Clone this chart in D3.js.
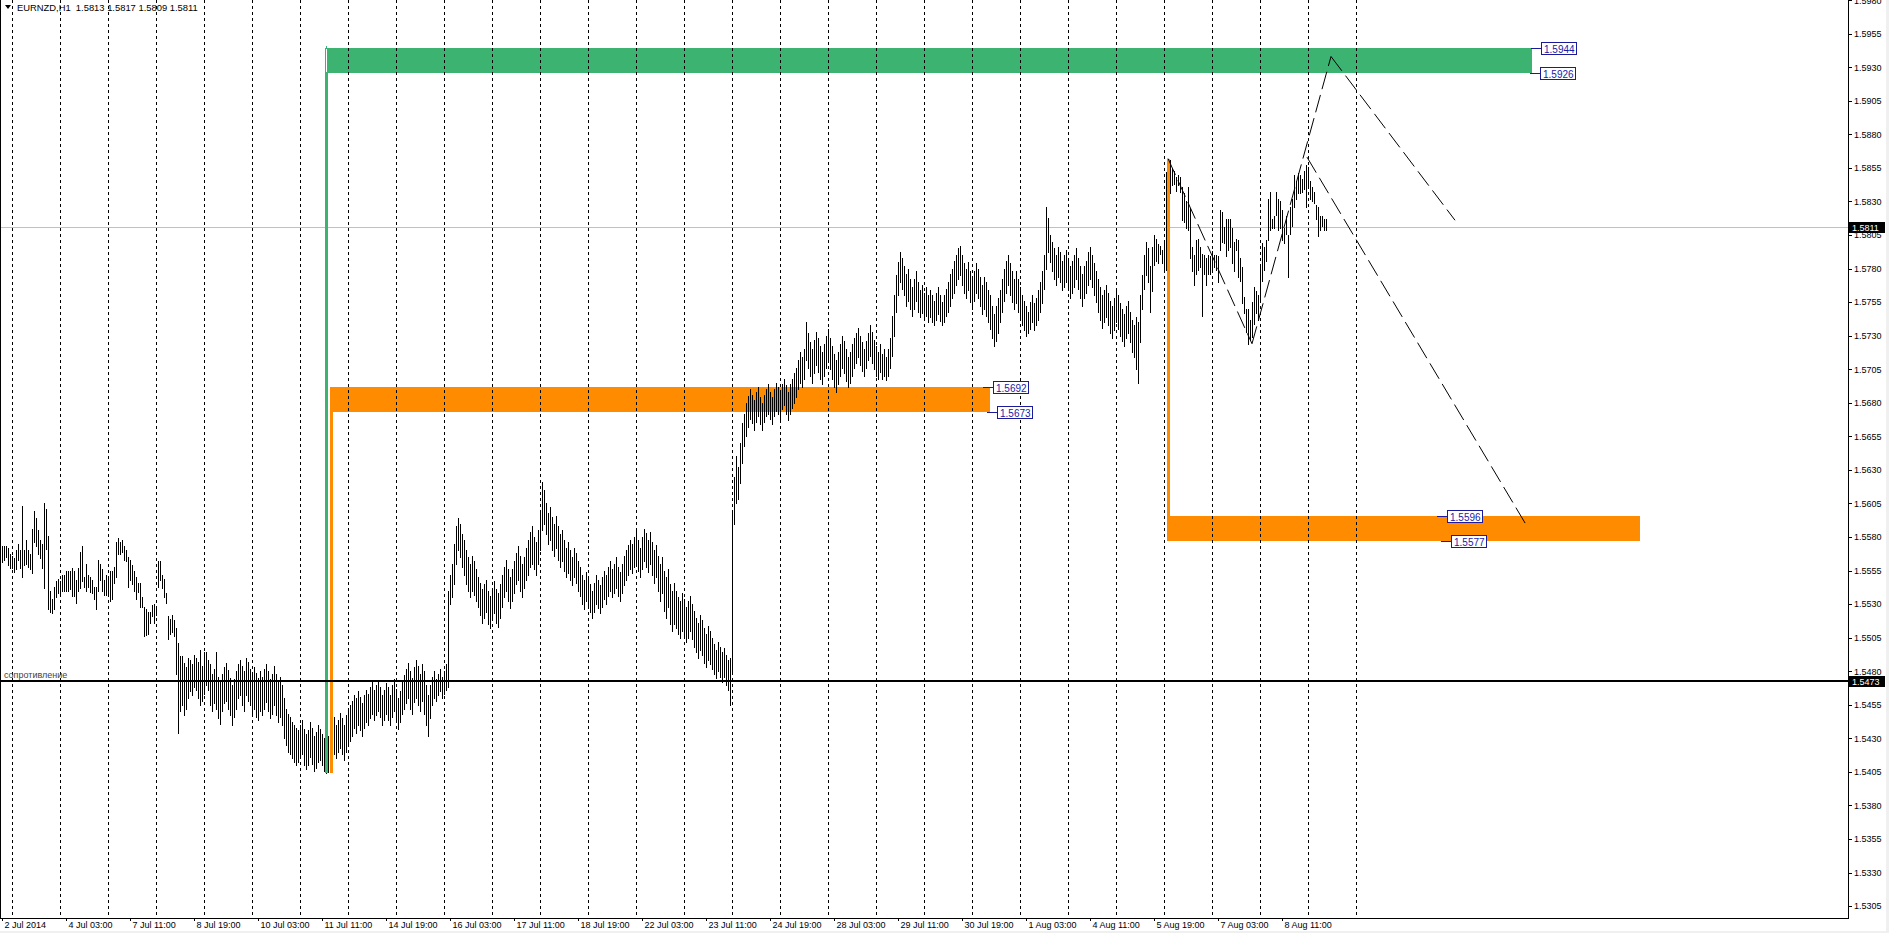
<!DOCTYPE html>
<html>
<head>
<meta charset="utf-8">
<script src="https://cdn.jsdelivr.net/npm/d3@7/dist/d3.min.js"></script>
<style>
html,body{margin:0;padding:0;background:#fff;overflow:hidden}
svg{display:block}
text{font-family:"Liberation Sans",Arial,Helvetica,sans-serif}
</style>
</head>
<body>
<svg id="chart" width="1889" height="933"></svg>
<script>
// ================= DATA =================
const title = "EURNZD,H1  1.5813 1.5817 1.5809 1.5811";
// hourly bar highs / lows, in pips above 1.5000  (price = 1.5 + pips / 10000)
const highPips = [
573,573,573,572,567,566,564,570,575,570,603,570,578,570,567,586,599,594,585,578,
575,605,601,581,540,534,543,547,549,547,552,552,555,555,555,557,555,548,557,569,
573,550,560,552,550,548,543,543,563,560,556,548,552,549,555,555,558,576,579,576,
578,573,570,565,563,559,555,550,546,546,535,528,526,524,524,529,530,528,562,562,
552,549,538,521,519,522,518,
512,501,491,491,486,483,490,488,485,492,490,487,496,
484,494,494,488,485,478,482,494,476,472,478,483,486,481,475,470,474,480,485,488,
484,480,490,487,482,478,483,479,475,480,476,482,485,480,474,478,484,478,472,476,
470,460,452,448,446,442,440,438,436,440,444,437,433,436,442,438,432,435,440,437,
433,430,428,432,438,442,446,440,444,449,445,440,447,452,455,458,462,460,465,461,
456,462,466,463,468,472,466,470,473,468,462,466,471,468,462,470,474,467,460,465,
472,477,482,486,480,475,483,488,484,478,485,480,470,462,470,476,480,474,478,482,
476,480,485,540,552,560,575,588,594,590,582,578,570,565,560,566,562,556,550,546,
541,545,548,540,536,542,547,541,538,545,552,558,563,556,550,556,562,568,573,566,
560,565,572,578,584,588,580,576,585,600,621,615,605,598,602,595,590,596,588,582,
585,578,572,576,570,565,572,568,562,558,552,548,554,550,545,540,546,552,548,544,
550,555,552,558,562,556,560,565,558,554,560,566,570,574,578,575,580,585,578,572,
580,586,583,578,584,576,570,574,566,560,565,555,550,556,545,540,546,540,535,532,
538,534,528,532,536,530,525,520,516,522,518,512,508,514,510,505,500,496,502,498,
494,497,492,488,490,600,625,640,632,650,665,672,680,685,690,686,682,688,692,684,
680,686,690,694,688,684,690,695,692,688,694,698,693,688,694,698,702,706,712,718,
714,720,740,732,725,720,727,733,728,722,718,724,730,735,728,722,716,712,718,724,
730,726,720,714,718,724,728,732,736,730,725,720,726,732,738,733,727,722,718,724,
716,720,714,720,728,745,760,775,785,792,788,782,776,780,772,766,772,778,770,764,
768,762,766,760,764,760,756,762,766,760,755,760,765,770,776,780,786,790,795,797,
790,784,780,785,778,772,778,784,780,774,768,774,770,764,760,752,746,752,758,764,
772,780,786,790,784,778,772,778,772,766,760,756,752,748,755,760,754,758,764,770,
778,790,826,818,805,800,795,790,796,792,786,790,794,788,782,786,790,795,788,782,
776,782,786,792,796,790,784,778,772,766,760,764,768,762,756,752,758,764,760,754,
750,746,752,756,748,742,738,744,740,760,775,790,800,795,
782,796,805,802,798,797,794,801,852,862,
861,855,853,848,850,848,841,836,830,841,
825,796,790,801,802,796,791,790,788,790,
789,793,790,790,789,824,822,811,817,817,
817,810,800,802,801,788,781,759,750,750,
742,755,766,763,760,783,799,796,801,832,
837,817,819,837,832,830,824,810,819,805,
826,832,850,845,851,850,847,853,857,856,
845,841,837,827,826,819,819,817,817
];
const lowPips = [
561,563,565,559,557,557,554,556,563,557,550,559,560,558,556,553,576,573,567,564,
557,542,571,526,524,523,526,535,538,538,540,540,540,540,541,536,536,531,540,542,
547,543,540,543,539,538,534,526,540,548,540,537,537,538,532,534,546,550,567,567,
569,563,562,543,548,545,540,534,539,528,528,506,507,508,516,521,516,522,543,548,
542,535,531,504,508,509,506,
478,434,450,455,447,452,460,465,462,468,466,460,455,
458,463,470,466,455,450,456,452,445,441,450,456,458,452,447,440,446,452,460,462,
455,450,462,458,455,449,452,446,444,450,447,452,457,450,445,448,455,447,442,446,
440,430,425,420,418,415,412,410,412,415,418,410,407,410,416,411,406,408,412,414,
410,406,404,405,410,414,418,415,420,423,418,414,420,425,428,432,438,434,440,436,
432,438,442,440,445,448,444,447,450,446,440,444,448,444,440,446,450,444,437,442,
448,452,456,460,452,448,457,460,455,450,458,448,440,432,445,455,460,458,462,465,
460,463,466,468,530,535,545,560,570,565,558,552,545,540,535,540,537,532,528,522,
516,520,524,515,512,518,523,516,513,520,528,535,540,532,527,532,538,545,548,540,
535,542,548,552,558,560,556,552,560,570,585,590,582,575,578,570,566,572,563,558,
562,555,550,553,548,544,550,546,540,536,530,526,532,528,524,520,524,530,527,523,
528,534,530,536,540,535,538,542,536,532,538,544,548,552,556,553,558,560,555,550,
556,562,558,554,560,552,546,550,540,532,538,525,520,528,515,510,515,512,508,505,
510,506,502,505,510,504,498,494,490,496,492,486,483,488,485,482,478,475,480,476,
472,476,470,466,455,480,590,605,608,620,635,648,655,662,668,665,660,666,670,664,
660,666,670,672,668,664,670,674,672,668,675,678,672,667,672,676,680,684,690,695,
692,698,712,706,700,695,702,708,703,698,694,700,706,712,705,698,692,688,694,700,
706,702,696,692,695,700,706,710,714,708,704,700,706,712,715,710,705,700,698,703,
698,700,697,700,706,715,730,748,760,770,765,760,752,756,750,745,750,756,748,744,
747,742,745,740,744,740,738,742,746,741,738,740,745,748,752,758,762,768,772,775,
768,762,758,764,755,750,756,762,758,752,746,750,745,740,735,728,722,726,732,740,
748,756,762,768,760,755,750,754,748,742,738,734,730,732,735,740,734,738,742,748,
754,765,780,792,785,778,772,768,774,770,764,766,770,764,758,762,766,772,765,758,
752,758,762,768,772,766,760,755,748,742,736,740,744,738,732,728,734,740,735,730,
726,722,728,732,725,718,714,705,695,725,750,765,775,770,
748,763,783,786,784,791,784,779,779,826,
836,842,843,838,842,837,816,815,810,809,
788,778,768,776,779,781,745,776,768,776,
776,779,781,779,770,794,800,799,789,794,
796,784,778,794,774,771,754,747,733,724,
727,729,739,747,742,757,771,779,786,801,
809,810,810,820,809,810,801,799,806,774,
806,812,826,832,836,836,837,839,826,842,
832,830,829,817,804,809,812,809,809
];
const timeLabels = ["2 Jul 2014","4 Jul 03:00","7 Jul 11:00","8 Jul 19:00","10 Jul 03:00","11 Jul 11:00",
  "14 Jul 19:00","16 Jul 03:00","17 Jul 11:00","18 Jul 19:00","22 Jul 03:00","23 Jul 11:00","24 Jul 19:00",
  "28 Jul 03:00","29 Jul 11:00","30 Jul 19:00","1 Aug 03:00","4 Aug 11:00","5 Aug 19:00","7 Aug 03:00","8 Aug 11:00"];
const priceTickLabels = ["1.5305","1.5330","1.5355","1.5380","1.5405","1.5430","1.5455","1.5480","1.5505",
  "1.5530","1.5555","1.5580","1.5605","1.5630","1.5655","1.5680","1.5705","1.5730","1.5755","1.5780",
  "1.5805","1.5830","1.5855","1.5880","1.5905","1.5930","1.5955","1.5980"];
const bidPrice = 1.5811;
const resistancePrice = 1.5473;
const resistanceName = "сопротивление";
// zones (rectangles) : price band, start / end bar, far end of their vertical stem
const zoneTop      = [1.5944, 1.5692, 1.5596];
const zoneBottom   = [1.5926, 1.5673, 1.5577];
const zoneStartBar = [161.5, 164, 582.5];
const zoneEndBar   = [764.8, 494, 818.8];
const zoneStem     = [1.5404, 1.5404, 1.5862];
// price tags (anchor bar, price)
const tagPrices = [1.5944, 1.5926, 1.5692, 1.5673, 1.5596, 1.5577];
const tagBars   = [764.5, 764, 490.5, 492.5, 717.5, 719.5];
// dashed trend lines
const trendFromBar   = [583, 625, 664.5, 652.5];
const trendFromPrice = [1.5862, 1.5724, 1.5938, 1.5863];
const trendToBar     = [625, 664.5, 726.5, 762.5];
const trendToPrice   = [1.5724, 1.5938, 1.5816, 1.5588];

// ================= DRAW =================
const W = 1889, H = 933, R = 1848, B = 918;
const FONT = "'Liberation Sans', Arial, sans-serif";
const svg = d3.select("#chart");
const x = d3.scaleLinear().domain([0, 923]).range([2, R]);
const y = d3.scaleLinear().domain([1.52961, 1.59801]).range([B, 0]);
const px = v => Math.round(x(v)) + 0.5;
const py = v => Math.round(y(v)) + 0.5;
const toPrice = p => 1.5 + p / 10000;

svg.append("rect").attr("width", W).attr("height", H).attr("fill", "#fff");
svg.append("rect").attr("x", 0).attr("y", 931).attr("width", W).attr("height", 2).attr("fill", "#f0f0f0");
svg.append("rect").attr("x", 1886).attr("y", 0).attr("width", 3).attr("height", H).attr("fill", "#f0f0f0");

const zoneColor = ["#3cb371", "#ff8c00", "#ff8c00"];
const zones = zoneTop.map((t, i) => ({top: t, bottom: zoneBottom[i], b0: zoneStartBar[i], b1: zoneEndBar[i], stem: zoneStem[i], color: zoneColor[i]}));

const plot = svg.append("g").attr("shape-rendering", "crispEdges");
plot.selectAll("rect.zone").data(zones).join("rect").attr("class", "zone")
  .attr("x", d => Math.round(x(d.b0))).attr("width", d => Math.round(x(d.b1)) - Math.round(x(d.b0)))
  .attr("y", d => Math.round(y(d.top))).attr("height", d => Math.round(y(d.bottom)) - Math.round(y(d.top)))
  .attr("fill", d => d.color);

// grid
const gridBars = d3.range(5, 680, 24);
plot.selectAll("line.grid").data(gridBars).join("line").attr("class", "grid")
  .attr("x1", d => px(d)).attr("x2", d => px(d)).attr("y1", 0).attr("y2", B)
  .attr("stroke", "#000").attr("stroke-width", 1).attr("stroke-dasharray", "3,3");

// bid line
plot.append("line").attr("x1", 0).attr("x2", R).attr("y1", py(bidPrice)).attr("y2", py(bidPrice))
  .attr("stroke", "#c0c0c0");

// bars
const n = Math.min(highPips.length, lowPips.length);
const bars = d3.range(n).map(i => ({i, h: toPrice(highPips[i]), l: toPrice(lowPips[i])}));
plot.selectAll("line.bar").data(bars).join("line").attr("class", "bar")
  .attr("x1", d => px(d.i)).attr("x2", d => px(d.i))
  .attr("y1", d => Math.round(y(d.h))).attr("y2", d => Math.round(y(d.l)) + 1)
  .attr("stroke", "#000").attr("stroke-width", 1);

// zone stems
plot.selectAll("rect.stem").data(zones).join("rect").attr("class", "stem")
  .attr("x", d => Math.round(x(d.b0))).attr("width", 3)
  .attr("y", d => Math.round(y(Math.max(d.top, d.stem))))
  .attr("height", d => Math.round(y(Math.min(d.bottom, d.stem))) - Math.round(y(Math.max(d.top, d.stem))))
  .attr("fill", d => d.color);
// selected-object highlight on the green stem
plot.append("rect").attr("x", Math.round(x(zones[0].b0)) + 1).attr("width", 1)
  .attr("y", Math.round(y(zones[0].top)) + 1).attr("height", Math.round(y(zones[0].bottom)) - Math.round(y(zones[0].top)) - 2)
  .attr("fill", "#fff");
plot.append("rect").attr("x", Math.round(x(zones[0].b0)) + 1).attr("width", 1)
  .attr("y", Math.round(y(zones[0].top)) - 2).attr("height", 2).attr("fill", zones[0].color);

// resistance line
plot.append("rect").attr("x", 0).attr("width", R).attr("y", Math.round(y(resistancePrice)) - 1).attr("height", 2).attr("fill", "#000");
svg.append("text").attr("x", 4).attr("y", Math.round(y(resistancePrice)) - 3)
  .attr("font-family", FONT).attr("font-size", 9).attr("fill", "#444").text(resistanceName);

// trend lines
const trends = trendFromBar.map((b, i) => ({b0: b, p0: trendFromPrice[i], b1: trendToBar[i], p1: trendToPrice[i]}));
svg.selectAll("line.trend").data(trends).join("line").attr("class", "trend")
  .attr("x1", d => x(d.b0)).attr("y1", d => y(d.p0)).attr("x2", d => x(d.b1)).attr("y2", d => y(d.p1))
  .attr("stroke", "#000").attr("stroke-width", 1).attr("stroke-dasharray", "18,6");

// price tags
const tags = tagPrices.map((p, i) => ({p, b: tagBars[i]}));
const tg = svg.selectAll("g.tag").data(tags).join("g").attr("class", "tag")
  .attr("transform", d => `translate(${Math.round(x(d.b))},${Math.round(y(d.p))})`);
tg.append("line").attr("x1", 0).attr("x2", 10).attr("y1", 0.5).attr("y2", 0.5).attr("stroke", "#1a1a9a").attr("shape-rendering", "crispEdges");
tg.append("rect").attr("x", 10.5).attr("y", -5.5).attr("width", 35).attr("height", 12)
  .attr("fill", "#fff").attr("stroke", "#1a1a9a").attr("shape-rendering", "crispEdges");
tg.append("text").attr("x", 13).attr("y", 4.5).attr("font-family", FONT).attr("font-size", 10)
  .attr("fill", "#1a1aa8").text(d => d.p.toFixed(4));

// marker at top
svg.append("path").attr("d", `M${x(662)},${y(1.5988)} l4,4 l-4,4 l-4,-4 Z`).attr("fill", "#c8c8c8");

// frame lines
const frame = svg.append("g").attr("shape-rendering", "crispEdges");
frame.append("line").attr("x1", 0.5).attr("x2", 0.5).attr("y1", 0).attr("y2", B).attr("stroke", "#000");
frame.append("line").attr("x1", R + 0.5).attr("x2", R + 0.5).attr("y1", 0).attr("y2", B + 1).attr("stroke", "#000");
frame.append("line").attr("x1", 0).attr("x2", R + 1).attr("y1", B + 0.5).attr("y2", B + 0.5).attr("stroke", "#000");

// right price axis
const yAxis = d3.axisRight(y).tickValues(priceTickLabels.map(Number))
  .tickFormat((d, i) => priceTickLabels[i]).tickSizeInner(4).tickSizeOuter(0).tickPadding(2);
const ga = svg.append("g").attr("transform", `translate(${R},0)`).call(yAxis);
ga.select(".domain").remove();
ga.attr("font-family", FONT).attr("font-size", 9);
ga.selectAll("line").attr("stroke", "#000").attr("shape-rendering", "crispEdges");
ga.selectAll("text").attr("fill", "#000");

// bottom time axis
const xAxis = d3.axisBottom(x).tickValues(timeLabels.map((_, i) => i * 32))
  .tickFormat((d, i) => timeLabels[i]).tickSizeInner(3).tickSizeOuter(0).tickPadding(1);
const gx = svg.append("g").attr("transform", `translate(0,${B})`).call(xAxis);
gx.select(".domain").remove();
gx.attr("font-family", FONT).attr("font-size", 9);
gx.selectAll("line").attr("stroke", "#000").attr("shape-rendering", "crispEdges");
gx.selectAll("text").attr("fill", "#000").attr("text-anchor", "start").attr("x", 2);

// axis price boxes
[bidPrice, resistancePrice].forEach(p => {
  const yy = Math.round(y(p));
  svg.append("rect").attr("x", R + 1).attr("y", yy - 5).attr("width", 36).attr("height", 11).attr("fill", "#000");
  svg.append("text").attr("x", R + 4).attr("y", yy + 4).attr("font-family", FONT).attr("font-size", 9)
    .attr("fill", "#fff").text(p.toFixed(4));
});

// title
svg.append("path").attr("d", "M5,5 L11,5 L8,9 Z").attr("fill", "#000");
svg.append("text").attr("x", 17).attr("y", 10.5).attr("font-family", FONT).attr("font-size", 9.4)
  .attr("fill", "#000").attr("xml:space", "preserve").style("white-space", "pre").text(title);
</script>
</body>
</html>
